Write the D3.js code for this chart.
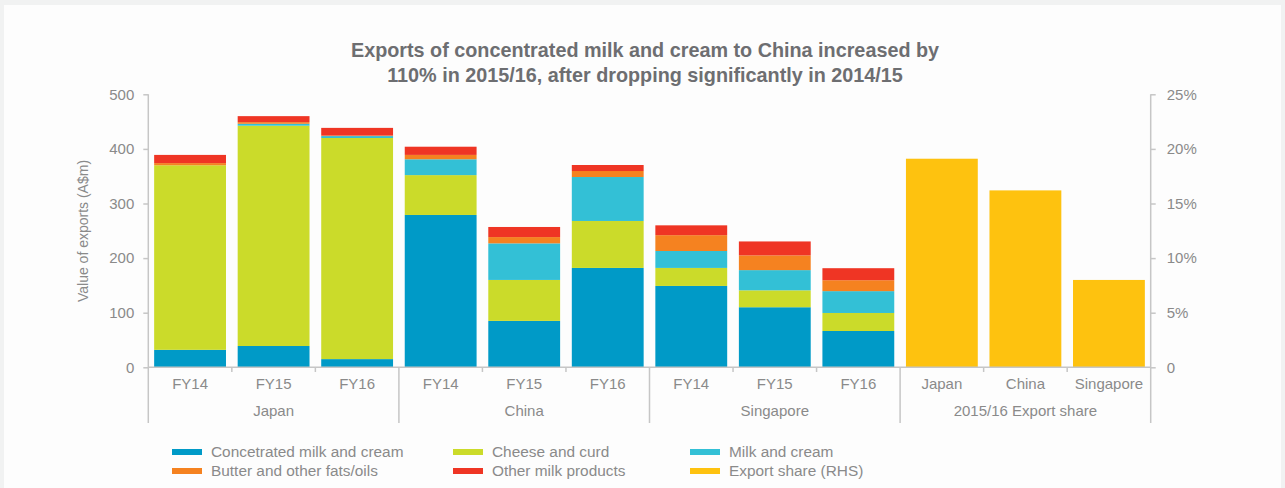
<!DOCTYPE html>
<html>
<head>
<meta charset="utf-8">
<script src="https://cdn.jsdelivr.net/npm/d3@7"></script>
<style>
  html, body { margin: 0; padding: 0; background: #f1f2f2; }
  svg { display: block; }
  text { font-family: "Liberation Sans", Arial, sans-serif; }
</style>
</head>
<body>
<svg id="chart" width="1285" height="488"></svg>
<script>
// Dairy export values (A$m) by market and financial year
const years = ["FY14", "FY15", "FY16"];
const markets = ["Japan", "China", "Singapore"];
const shareLabels = ["Japan", "China", "Singapore"];
const groupLabels = ["Japan", "China", "Singapore", "2015/16 Export share"];

const concentrated = [32, 39, 15, 279, 85, 182, 149, 110, 66.5];
const cheese       = [338, 403.5, 405, 73, 75, 86, 33, 31, 33];
const milkCream    = [0, 3.5, 3.5, 29, 67, 80.5, 31, 37, 40];
const butter       = [4, 3, 1, 8, 11.5, 11, 29, 27, 20];
const otherMilk    = [15, 11, 14, 15, 18.5, 11, 18, 25.5, 22];
const exportShare  = [19.1, 16.2, 8.0];   // per cent, right-hand axis

const leftTicks  = [0, 100, 200, 300, 400, 500];
const rightTicks = [0, 5, 10, 15, 20, 25];

const seriesNames = ["Concetrated milk and cream", "Cheese and curd", "Milk and cream",
                     "Butter and other fats/oils", "Other milk products", "Export share (RHS)"];
const colors = {
  conc: "#009ac7", cheese: "#cbdb2a", milk: "#33c0d6",
  butter: "#f58220", other: "#ef3524", share: "#fec20f"
};

const svg = d3.select("#chart");

// white panel
svg.append("rect").attr("x", 4).attr("y", 5).attr("width", 1277).attr("height", 490)
  .attr("fill", "#fdfdfd");

const plotLeft = 148.3, plotRight = 1150.7, plotTop = 94.3, base = 367.3;

// one band per bar: 9 stacked bars followed by 3 share bars
const rows = [];
markets.forEach((m, i) => years.forEach((yr, j) => {
  const k = i * 3 + j;
  rows.push({ id: m + "-" + yr, label: yr, group: i,
    conc: concentrated[k], cheese: cheese[k], milk: milkCream[k],
    butter: butter[k], other: otherMilk[k] });
}));
const shareRows = shareLabels.map((s, i) => ({ id: "share-" + s, label: s, group: 3, share: exportShare[i] }));
const allIds = rows.map(d => d.id).concat(shareRows.map(d => d.id));

const x = d3.scaleBand().domain(allIds).range([plotLeft, plotRight]).paddingInner(0.14).paddingOuter(0.07);
const y = d3.scaleLinear().domain([0, 500]).range([base, plotTop]);
const y2 = d3.scaleLinear().domain([0, 25]).range([base, plotTop]);

// title
const title = svg.append("text").attr("text-anchor", "middle")
  .attr("fill", "#6d6e71").attr("font-weight", "bold").attr("font-size", 19.8);
title.append("tspan").attr("x", 645).attr("y", 57).text("Exports of concentrated milk and cream to China increased by");
title.append("tspan").attr("x", 645).attr("y", 82).text("110% in 2015/16, after dropping significantly in 2014/15");

// stacked bars
const keys = ["conc", "cheese", "milk", "butter", "other"];
const stacked = d3.stack().keys(keys)(rows);
svg.append("g").selectAll("g").data(stacked).join("g")
  .attr("fill", s => colors[s.key])
  .selectAll("rect").data(s => s).join("rect")
  .attr("x", d => x(d.data.id))
  .attr("width", x.bandwidth())
  .attr("y", d => y(d[1]))
  .attr("height", d => Math.max(0, y(d[0]) - y(d[1])));

// export share bars
svg.append("g").selectAll("rect").data(shareRows).join("rect")
  .attr("fill", colors.share)
  .attr("x", d => x(d.id)).attr("width", x.bandwidth())
  .attr("y", d => y2(d.share)).attr("height", d => base - y2(d.share));

const axisColor = "#c6c6c6", labelColor = "#8a8a8a";

// left axis
const yAxis = svg.append("g").attr("transform", `translate(${plotLeft},0)`)
  .call(d3.axisLeft(y).tickValues(leftTicks).tickSize(5).tickPadding(9));
yAxis.select(".domain").remove();
yAxis.selectAll(".tick line").attr("stroke", axisColor).attr("stroke-width", 1.5);
yAxis.selectAll(".tick text").attr("fill", labelColor).attr("font-size", 15)
  .attr("font-family", "Liberation Sans, Arial, sans-serif");
svg.append("line").attr("x1", plotLeft).attr("x2", plotLeft).attr("y1", plotTop).attr("y2", 423)
  .attr("stroke", axisColor).attr("stroke-width", 1.5);

// right axis
const yAxis2 = svg.append("g").attr("transform", `translate(${plotRight},0)`)
  .call(d3.axisRight(y2).tickValues(rightTicks).tickSize(5).tickPadding(11)
    .tickFormat(d => d === 0 ? "0" : d + "%"));
yAxis2.select(".domain").remove();
yAxis2.selectAll(".tick line").attr("stroke", axisColor).attr("stroke-width", 1.5);
yAxis2.selectAll(".tick text").attr("fill", labelColor).attr("font-size", 15)
  .attr("font-family", "Liberation Sans, Arial, sans-serif");
svg.append("line").attr("x1", plotRight).attr("x2", plotRight).attr("y1", plotTop).attr("y2", 423)
  .attr("stroke", axisColor).attr("stroke-width", 1.5);

// y axis title
svg.append("text").attr("transform", "translate(88,231) rotate(-90)")
  .attr("text-anchor", "middle").attr("fill", labelColor).attr("font-size", 14)
  .text("Value of exports (A$m)");

// baseline
svg.append("line").attr("x1", plotLeft).attr("x2", plotRight).attr("y1", base).attr("y2", base)
  .attr("stroke", axisColor).attr("stroke-width", 1.5);

// category ticks and labels
const step = x.step();
const allRows = rows.concat(shareRows);
allRows.forEach((d, i) => {
  const bandLeft = x(d.id) - x.paddingInner() * step / 2;
  if (i > 0) {
    const isGroupEdge = i % 3 === 0;
    svg.append("line").attr("x1", bandLeft).attr("x2", bandLeft)
      .attr("y1", base).attr("y2", isGroupEdge ? 423 : 372)
      .attr("stroke", axisColor).attr("stroke-width", 1.5);
  }
  svg.append("text").attr("x", x(d.id) + x.bandwidth() / 2).attr("y", 389)
    .attr("text-anchor", "middle").attr("fill", labelColor).attr("font-size", 15)
    .text(d.label);
});

// group labels
groupLabels.forEach((g, i) => {
  const first = allRows[i * 3], last = allRows[i * 3 + 2];
  const cx = (x(first.id) + x(last.id) + x.bandwidth()) / 2;
  svg.append("text").attr("x", cx).attr("y", 416).attr("text-anchor", "middle")
    .attr("fill", labelColor).attr("font-size", 15).text(g);
});

// legend
const legendKeys = ["conc", "cheese", "milk", "butter", "other", "share"];
const colX = [172, 453, 690];
const rowY = [452, 471];
legendKeys.forEach((k, i) => {
  const cx = colX[i % 3], cy = rowY[Math.floor(i / 3)];
  svg.append("rect").attr("x", cx).attr("y", cy - 3).attr("width", 30).attr("height", 6)
    .attr("fill", colors[k]);
  svg.append("text").attr("x", cx + 39).attr("y", cy + 5).attr("fill", labelColor)
    .attr("font-size", 15.4).text(seriesNames[i]);
});
</script>
</body>
</html>
